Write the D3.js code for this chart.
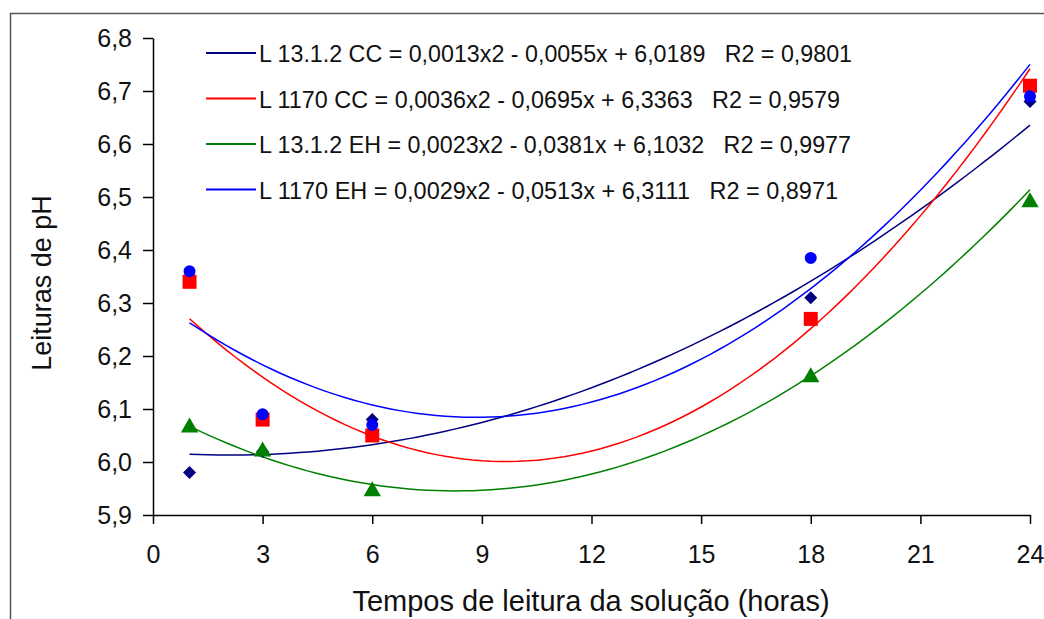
<!DOCTYPE html>
<html>
<head>
<meta charset="utf-8">
<script src="https://cdn.jsdelivr.net/npm/d3@7"></script>
<style>
  body { margin: 0; background: #fff; }
  svg { display: block; font-family: "Liberation Sans", Arial, sans-serif; }
  .axis path, .axis line { stroke: #000; stroke-width: 1.5; }
  .axis text { font-size: 25px; fill: #111; }
</style>
</head>
<body>
<svg id="chart" width="1044" height="619"></svg>
<script>
// tempos de leitura (horas)
var hours = [1, 3, 6, 18, 24];

// leituras de pH por linhagem
var ccL1312 = [5.98, 6.02, 6.08, 6.31, 6.68];
var ccL1170 = [6.34, 6.08, 6.05, 6.27, 6.71];
var ehL1312 = [6.065, 6.02, 5.945, 6.16, 6.49];
var ehL1170 = [6.36, 6.09, 6.07, 6.385, 6.69];

// coeficientes das linhas de tendência (a x2 + b x + c), tirados da legenda
var coefL1312CC = [0.0013, -0.0055, 6.0189];
var coefL1170CC = [0.0036, -0.0695, 6.3363];
var coefL1312EH = [0.0023, -0.0381, 6.1032];
var coefL1170EH = [0.0029, -0.0513, 6.3111];

var legendLabels = [
  "L 13.1.2 CC = 0,0013x2 - 0,0055x + 6,0189   R2 = 0,9801",
  "L 1170 CC = 0,0036x2 - 0,0695x + 6,3363   R2 = 0,9579",
  "L 13.1.2 EH = 0,0023x2 - 0,0381x + 6,1032   R2 = 0,9977",
  "L 1170 EH = 0,0029x2 - 0,0513x + 6,3111   R2 = 0,8971"
];

var xTicks = [0, 3, 6, 9, 12, 15, 18, 21, 24];
var yTicks = [5.9, 6.0, 6.1, 6.2, 6.3, 6.4, 6.5, 6.6, 6.7, 6.8];

var series = [
  { values: ccL1312, coef: coefL1312CC, color: "#000080", shape: d3.symbolSquare, size: 85, rot: 45 },
  { values: ccL1170, coef: coefL1170CC, color: "#ff0000", shape: d3.symbolSquare, size: 196, rot: 0 },
  { values: ehL1312, coef: coefL1312EH, color: "#008000", shape: d3.symbolTriangle, size: 130, rot: 0 },
  { values: ehL1170, coef: coefL1170EH, color: "#0000ff", shape: d3.symbolCircle, size: 113, rot: 0 }
];

var svg = d3.select("#chart");

// moldura do gráfico
svg.append("rect")
  .attr("x", 10.5).attr("y", 13.5)
  .attr("width", 1100).attr("height", 700)
  .attr("fill", "none")
  .attr("stroke", "#555")
  .attr("stroke-width", 1.5);

var x = d3.scaleLinear().domain([0, 24]).range([153, 1030]);
var y = d3.scaleLinear().domain([5.9, 6.8]).range([515, 38]);

var comma = function(d) { return d3.format(".1f")(d).replace(".", ","); };

// eixo X
svg.append("g")
  .attr("class", "axis")
  .attr("transform", "translate(0," + y(5.9) + ")")
  .call(d3.axisBottom(x).tickValues(xTicks).tickSize(9).tickPadding(21).tickSizeOuter(0));

// eixo Y
svg.append("g")
  .attr("class", "axis")
  .attr("transform", "translate(" + x(0) + ",0)")
  .call(d3.axisLeft(y).tickValues(yTicks).tickFormat(comma).tickSize(10).tickPadding(11).tickSizeOuter(0));

// títulos dos eixos
svg.append("text")
  .attr("x", 591).attr("y", 611)
  .attr("text-anchor", "middle")
  .style("font-size", "29px")
  .attr("fill", "#111")
  .text("Tempos de leitura da solução (horas)");

svg.append("text")
  .attr("transform", "translate(51,283) rotate(-90)")
  .attr("text-anchor", "middle")
  .style("font-size", "27px")
  .attr("fill", "#111")
  .text("Leituras de pH");

// linhas de tendência polinomiais
series.forEach(function(s) {
  var xs = d3.range(1, 24.001, 0.25);
  var trend = d3.line()
    .x(function(d) { return x(d); })
    .y(function(d) { return y(s.coef[0] * d * d + s.coef[1] * d + s.coef[2]); });
  svg.append("path")
    .datum(xs)
    .attr("d", trend)
    .attr("fill", "none")
    .attr("stroke", s.color)
    .attr("stroke-width", 1.5);
});

// pontos
series.forEach(function(s) {
  svg.append("g")
    .selectAll("path")
    .data(s.values)
    .enter().append("path")
    .attr("transform", function(d, i) {
      return "translate(" + x(hours[i]) + "," + y(d) + ") rotate(" + s.rot + ")";
    })
    .attr("d", d3.symbol().type(s.shape).size(s.size))
    .attr("fill", s.color);
});

// legenda
var legendEnds = [852, 840, 851, 838];
var legend = svg.append("g");
legendLabels.forEach(function(label, i) {
  var ly = 53 + i * 45.5;
  legend.append("line")
    .attr("x1", 206).attr("x2", 256)
    .attr("y1", ly).attr("y2", ly)
    .attr("stroke", series[i].color)
    .attr("stroke-width", 2);
  legend.append("text")
    .attr("x", 259).attr("y", ly + 9)
    .style("font-size", "24px")
    .style("white-space", "pre")
    .attr("fill", "#111")
    .attr("textLength", legendEnds[i] - 259)
    .attr("lengthAdjust", "spacingAndGlyphs")
    .text(label);
});
</script>
</body>
</html>
